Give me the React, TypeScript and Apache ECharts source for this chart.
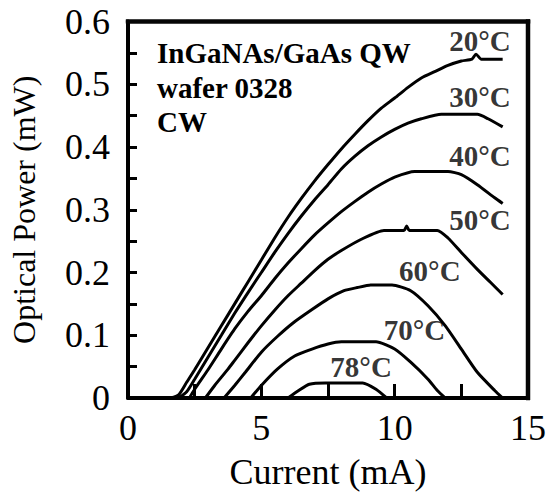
import React, { useEffect, useRef } from "react";
import * as echarts from "echarts";

// Current (mA) / optical power (mW) for each heat-sink temperature
const i20 = [1.6, 1.9, 2.2, 2.5, 3, 3.5, 4, 4.5, 5, 5.5, 6, 6.5, 7, 7.5, 8, 8.5, 9, 9.5, 10, 10.5, 11, 11.5, 12, 12.5, 12.9, 13.05, 13.25, 14.05];
const p20 = [0, 0.005, 0.025, 0.045, 0.08, 0.115, 0.15, 0.185, 0.22, 0.255, 0.288, 0.318, 0.346, 0.372, 0.397, 0.42, 0.442, 0.462, 0.478, 0.495, 0.51, 0.52, 0.53, 0.537, 0.54, 0.548, 0.54, 0.54];

const i30 = [1.9, 2.2, 2.5, 3, 3.5, 4, 4.5, 5, 5.5, 6, 6.5, 7, 7.5, 8, 8.5, 9, 9.5, 10, 10.5, 11, 11.75, 13.1, 13.5, 14.05];
const p30 = [0, 0.01, 0.03, 0.065, 0.1, 0.135, 0.168, 0.2, 0.232, 0.262, 0.29, 0.316, 0.34, 0.365, 0.385, 0.402, 0.416, 0.428, 0.438, 0.445, 0.452, 0.452, 0.445, 0.432];

const i40 = [2.3, 2.5, 3, 3.5, 4, 4.5, 5, 5.5, 6, 6.5, 7, 7.5, 8, 8.5, 9, 9.5, 10, 10.75, 12, 12.5, 13.1, 13.75, 14.05];
const p40 = [0, 0.014, 0.045, 0.078, 0.11, 0.138, 0.163, 0.19, 0.215, 0.238, 0.26, 0.279, 0.297, 0.313, 0.328, 0.341, 0.352, 0.361, 0.361, 0.356, 0.34, 0.319, 0.31];

const i50 = [2.9, 3.25, 3.75, 4, 4.5, 5, 5.5, 6, 6.5, 7, 7.5, 8, 8.75, 9.6, 10.35, 10.45, 10.55, 11.6, 12, 12.5, 13.1, 13.6, 14.05];
const p50 = [0, 0.02, 0.046, 0.06, 0.088, 0.115, 0.14, 0.163, 0.183, 0.203, 0.221, 0.235, 0.253, 0.267, 0.267, 0.274, 0.267, 0.267, 0.255, 0.232, 0.205, 0.184, 0.165];

const i60 = [3.6, 4, 4.4, 5, 5.6, 6.2, 6.9, 7.5, 8.1, 8.6, 9.1, 9.9, 10.6, 11.25, 11.9, 12.5, 13.1, 13.75, 14.05];
const p60 = [0, 0.02, 0.041, 0.073, 0.098, 0.12, 0.141, 0.158, 0.171, 0.176, 0.18, 0.18, 0.171, 0.147, 0.115, 0.078, 0.041, 0.012, 0];

const i70 = [4.6, 5, 5.6, 6.25, 6.9, 7.5, 8, 9.3, 10, 10.6, 11.25, 11.6, 11.9];
const p70 = [0, 0.02, 0.046, 0.067, 0.078, 0.086, 0.0895, 0.0895, 0.078, 0.057, 0.03, 0.012, 0];

const i78 = [6.0, 6.4, 6.8, 7.4, 8.8, 9.3, 9.7];
const p78 = [0, 0.012, 0.022, 0.024, 0.024, 0.014, 0];

const tempNames = ["20°C", "30°C", "40°C", "50°C", "60°C", "70°C", "78°C"];
const tempLabelI = [13.2, 13.2, 13.2, 13.2, 11.32, 10.74, 8.74];
const tempLabelP = [0.569, 0.48, 0.386, 0.284, 0.202, 0.108, 0.049];

const annotationLines = ["InGaNAs/GaAs QW", "wafer 0328", "CW"];

const X_MIN = 0;
const X_MAX = 15;
const Y_MIN = 0;
const Y_MAX = 0.6;

const curves: [number[], number[]][] = [
  [i20, p20],
  [i30, p30],
  [i40, p40],
  [i50, p50],
  [i60, p60],
  [i70, p70],
  [i78, p78],
];

const FONT = "Liberation Serif, Times New Roman, serif";
const INK = "#000";

export default function App() {
  const ref = useRef<HTMLDivElement>(null);
  useEffect(() => {
    if (!ref.current) return;
    const chart = echarts.init(ref.current, undefined, { renderer: "svg" });
    const lineSeries = curves.map(([xs, ys], k) => ({
      type: "line",
      name: tempNames[k],
      data: xs.map((x, j) => [x, ys[j]]),
      showSymbol: false,
      symbol: "none",
      smooth: 0.2,
      itemStyle: { color: INK },
      lineStyle: { color: INK, width: 3 },
      z: 3,
    }));
    chart.setOption({
      animation: false,
      backgroundColor: "#fff",
      textStyle: { fontFamily: FONT },
      grid: {
        left: 128,
        right: 25,
        top: 21.5,
        bottom: 96,
      },
      xAxis: {
        type: "value",
        min: X_MIN,
        max: X_MAX,
        interval: 5,
        name: "Current (mA)",
        nameLocation: "middle",
        nameGap: 56,
        nameTextStyle: { fontFamily: FONT, fontSize: 36, color: INK },
        axisLine: { show: true, onZero: false, lineStyle: { color: INK, width: 4 } },
        axisTick: { show: true, inside: true, length: 14, lineStyle: { color: INK, width: 3 } },
        minorTick: { show: true, splitNumber: 2, length: 14, lineStyle: { color: INK, width: 3 } },
        axisLabel: { fontFamily: FONT, fontSize: 36, color: INK, margin: 12 },
        splitLine: { show: false },
        minorSplitLine: { show: false },
      },
      yAxis: {
        type: "value",
        min: Y_MIN,
        max: Y_MAX,
        interval: 0.1,
        name: "Optical Power (mW)",
        nameLocation: "middle",
        nameGap: 88,
        nameTextStyle: { fontFamily: FONT, fontSize: 32, color: INK },
        axisLine: { show: true, onZero: false, lineStyle: { color: INK, width: 4 } },
        axisTick: { show: true, inside: true, length: 9, lineStyle: { color: INK, width: 3 } },
        minorTick: { show: true, splitNumber: 2, length: 9, lineStyle: { color: INK, width: 3 } },
        axisLabel: {
          fontFamily: FONT,
          fontSize: 36,
          color: INK,
          margin: 18,
          formatter: (v: number) => (v === 0 ? "0" : v.toFixed(1)),
        },
        splitLine: { show: false },
        minorSplitLine: { show: false },
      },
      series: [
        ...lineSeries,
        {
          type: "scatter",
          symbolSize: 0,
          itemStyle: { color: INK },
          data: tempNames.map((n, k) => ({ name: n, value: [tempLabelI[k], tempLabelP[k]] })),
          label: {
            show: true,
            position: "inside",
            formatter: (p: any) => p.name,
            fontFamily: FONT,
            fontWeight: "bold",
            fontSize: 29,
            color: INK,
            textBorderWidth: 0,
          },
          z: 5,
        },
      ],
    });
    const tl = chart.convertToPixel({ gridIndex: 0 }, [X_MIN, Y_MAX]) as number[];
    const br = chart.convertToPixel({ gridIndex: 0 }, [X_MAX, Y_MIN]) as number[];
    const t = 4;
    chart.setOption({
      graphic: [
        {
          type: "rect",
          z: 20,
          silent: true,
          shape: { x: tl[0] - t / 2, y: tl[1] - t / 2, width: br[0] - tl[0] + t, height: t },
          style: { fill: "#050505", stroke: "#050505", lineWidth: 0.5 },
        },
        {
          type: "rect",
          z: 20,
          silent: true,
          shape: { x: br[0] - t / 2, y: tl[1] - t / 2, width: t, height: br[1] - tl[1] + t },
          style: { fill: "#050505", stroke: "#050505", lineWidth: 0.5 },
        },
        {
          type: "text",
          left: 157,
          top: 36,
          z: 10,
          style: {
            text: annotationLines.join("\n"),
            font: `bold 29px ${FONT}`,
            lineHeight: 34.5,
            fill: INK,
          },
        },
      ],
    });
    return () => chart.dispose();
  }, []);
  return <div ref={ref} style={{ width: 553, height: 495, position: "absolute", left: 0, top: 0 }} />;
}
